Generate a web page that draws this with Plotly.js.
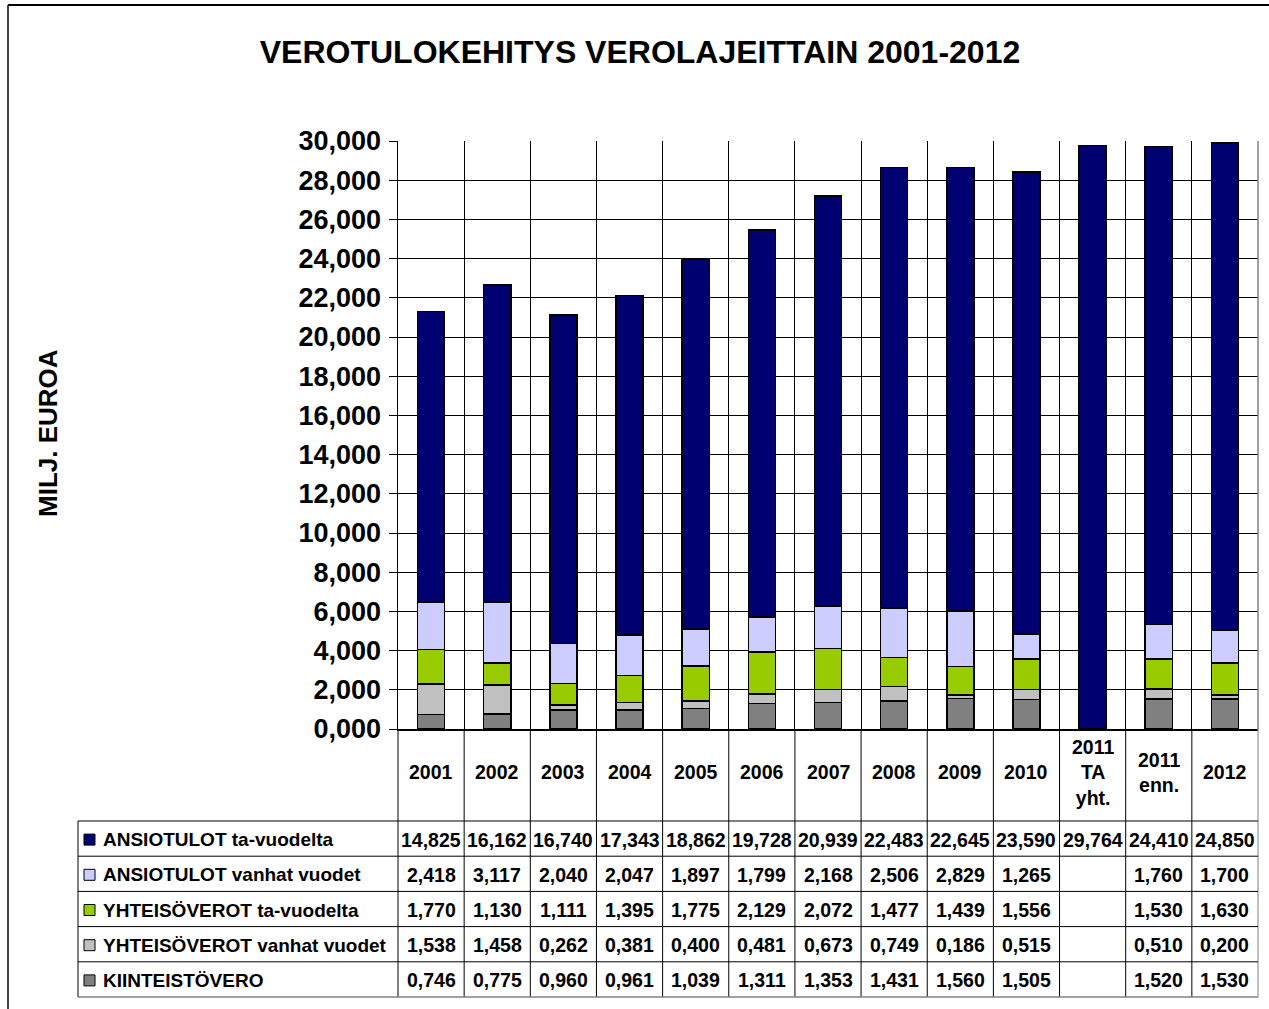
<!DOCTYPE html>
<html>
<head>
<meta charset="utf-8">
<script src="https://cdn.plot.ly/plotly-3.0.1.min.js"></script>
<style>
html,body{margin:0;padding:0;background:#fff;}
#chart{width:1269px;height:1009px;}
</style>
</head>
<body>
<div id="chart"></div>
<script>
// ---- data ----
const categories = ['2001','2002','2003','2004','2005','2006','2007','2008','2009','2010','2011 TA yht.','2011 enn.','2012'];
const headerLabels = ['2001','2002','2003','2004','2005','2006','2007','2008','2009','2010','2011<br>TA<br>yht.','2011<br>enn.','2012'];
const seriesNames = ['ANSIOTULOT ta-vuodelta','ANSIOTULOT vanhat vuodet','YHTEISÖVEROT ta-vuodelta','YHTEISÖVEROT vanhat vuodet','KIINTEISTÖVERO'];
const ansiotulotTa = [14.825,16.162,16.740,17.343,18.862,19.728,20.939,22.483,22.645,23.590,29.764,24.410,24.850];
const ansiotulotVanhat = [2.418,3.117,2.040,2.047,1.897,1.799,2.168,2.506,2.829,1.265,null,1.760,1.700];
const yhteisoverotTa = [1.770,1.130,1.111,1.395,1.775,2.129,2.072,1.477,1.439,1.556,null,1.530,1.630];
const yhteisoverotVanhat = [1.538,1.458,0.262,0.381,0.400,0.481,0.673,0.749,0.186,0.515,null,0.510,0.200];
const kiinteistovero = [0.746,0.775,0.960,0.961,1.039,1.311,1.353,1.431,1.560,1.505,null,1.520,1.530];
const yTickVals = [0,2,4,6,8,10,12,14,16,18,20,22,24,26,28,30];

// table rows (top to bottom) and colours
const rows = [ansiotulotTa, ansiotulotVanhat, yhteisoverotTa, yhteisoverotVanhat, kiinteistovero];
const colors = ['#000070','#CCCCFF','#99CC00','#C0C0C0','#808080'];

// ---- layout geometry (pixels) ----
const W = 1269, H = 1009;
const L = 398, R = 1258, T = 141, B = 729;
const pw = R - L, ph = B - T;
const px = p => (p - L) / pw;
const py = p => (B - p) / ph;
const FONT = 'Liberation Sans, Arial, sans-serif';

// stacking: bottom -> top
const traces = [];
for (let i = rows.length - 1; i >= 0; i--) {
  traces.push({
    type: 'bar',
    name: seriesNames[i],
    x: categories,
    y: rows[i],
    width: 0.41,
    marker: {color: colors[i], line: {color: '#000', width: 1.5}},
    hoverinfo: 'skip'
  });
}

const shapes = [];
const annotations = [];
const line = (x0,y0,x1,y1,color,w) => shapes.push({type:'line', xref:'paper', yref:'paper', x0:x0, y0:y0, x1:x1, y1:y1, line:{color:color||'#000', width:w||1}});

// table geometry
const tableLeft = 78;
const headerBottom = 821;
const rowH = 35.2;
const tableBottom = headerBottom + rowH * rows.length;
const N = categories.length;

// vertical lines of table (category boundaries)
for (let k = 0; k <= N; k++) {
  const xp = k / N;
  line(xp, py(B), xp, py(tableBottom), k === N ? '#808080' : '#000', 1);
}
// right border of plot area
line(1, 1, 1, py(B), '#808080', 1.5);
// left table edge
line(px(tableLeft), py(headerBottom), px(tableLeft), py(tableBottom), '#000', 1);
// horizontal row lines
for (let r = 0; r <= rows.length; r++) {
  const yy = headerBottom + r * rowH;
  line(px(tableLeft), py(yy), 1, py(yy), r === rows.length ? '#808080' : '#000', r === rows.length ? 1.5 : 1);
}
// outer chart border (top & left)
shapes.push({type:'line', xref:'paper', yref:'paper', x0:px(8), y0:py(5), x1:px(W), y1:py(5), line:{color:'#000', width:2}});
shapes.push({type:'line', xref:'paper', yref:'paper', x0:px(8), y0:py(5), x1:px(8), y1:py(H), line:{color:'#000', width:1.5}});

// header labels (x given as category index)
headerLabels.forEach((lab, i) => {
  annotations.push({xref:'x', yref:'paper', x: i, y: py(772), text: '<b>' + lab + '</b>',
    showarrow:false, xanchor:'center', yanchor:'middle', font:{family:FONT, size:19.5, color:'#000'}});
});

// values & legend column
const fmt = v => (v === null || v === undefined) ? '' : v.toFixed(3).replace('.', ',');
rows.forEach((vals, r) => {
  const yc = headerBottom + rowH * r + rowH / 2 + 1;
  vals.forEach((v, i) => {
    if (v === null) return;
    annotations.push({xref:'x', yref:'paper', x: i, y: py(yc), text: '<b>' + fmt(v) + '</b>',
      showarrow:false, xanchor:'center', yanchor:'middle', font:{family:FONT, size:19.5, color:'#000'}});
  });
  // legend key
  shapes.push({type:'rect', xref:'paper', yref:'paper', x0:px(84), x1:px(95), y0:py(yc - 5.5), y1:py(yc + 5.5),
    fillcolor: colors[r], line:{color:'#000', width:1}});
  annotations.push({xref:'paper', yref:'paper', x: px(101), y: py(yc), text: '<b>' + seriesNames[r] + '</b>',
    showarrow:false, xanchor:'left', yanchor:'middle', font:{family:FONT, size:19, color:'#000'}});
});

// y axis title
annotations.push({xref:'paper', yref:'paper', x: px(48), y: py(433), text:'<b>MILJ. EUROA</b>', textangle:-90,
  showarrow:false, xanchor:'center', yanchor:'middle', font:{family:FONT, size:26, color:'#000'}});

const layout = {
  width: W, height: H,
  margin: {l: L, r: W - R, t: T, b: H - B, pad: 0},
  paper_bgcolor: '#fff', plot_bgcolor: '#fff',
  separators: ', ',
  barmode: 'stack',
  showlegend: false,
  hovermode: false,
  title: {text: '<b>VEROTULOKEHITYS VEROLAJEITTAIN 2001-2012</b>', x: 640 / W, xref: 'container', xanchor: 'center',
    y: 1 - 52 / H, yref: 'container', yanchor: 'middle', font: {family: FONT, size: 32, color: '#000'}},
  xaxis: {type: 'category', categoryarray: categories, categoryorder: 'array', range: [-0.5, N - 0.5],
    tickson: 'boundaries', showgrid: true, gridcolor: '#000', gridwidth: 1, showticklabels: false, ticks: '',
    showline: true, linecolor: '#000', linewidth: 2, zeroline: false, fixedrange: true},
  yaxis: {range: [0, 30], tickvals: yTickVals, tickformat: ',.3f', showgrid: true, gridcolor: '#000', gridwidth: 1,
    ticks: 'outside', ticklen: 8, tickcolor: '#000', tickwidth: 1, showline: true, linecolor: '#000', linewidth: 1.5,
    zeroline: false, tickfont: {family: FONT, size: 27, color: '#000', weight: 'bold'}, ticklabelstandoff: 2, fixedrange: true},
  shapes: shapes,
  annotations: annotations
};

Plotly.newPlot('chart', traces, layout, {displayModeBar: false, staticPlot: true});
</script>
</body>
</html>
